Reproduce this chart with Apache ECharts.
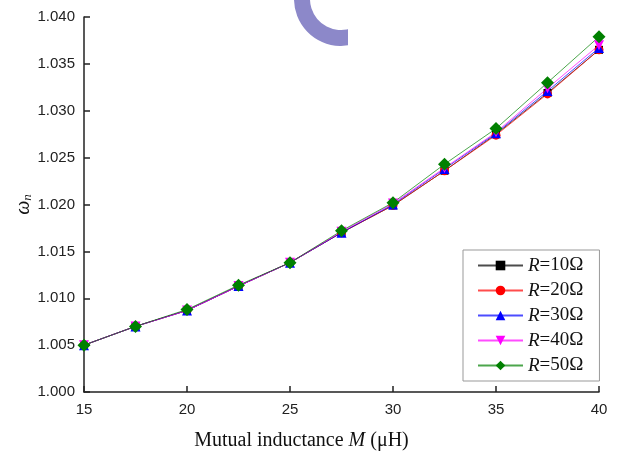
<!DOCTYPE html>
<html lang="en">
<head>
  <meta charset="UTF-8">
  <title>omega_n vs M</title>
  <script src="https://cdn.jsdelivr.net/npm/echarts@6/dist/echarts.min.js"></script>
  <style>
    html, body { margin: 0; padding: 0; background: #fff; }
    #main { width: 625px; height: 454px; }
  </style>
</head>
<body>
<div id="main"></div>
<script>
  // mutual inductance M (uH)
  var mValues = [15, 17.5, 20, 22.5, 25, 27.5, 30, 32.5, 35, 37.5, 40];
  // omega_n for each load resistance
  var r10 = [1.0050, 1.0070, 1.0087, 1.0113, 1.0138, 1.0170, 1.0199, 1.0236, 1.0275, 1.0319, 1.0365];
  var r20 = [1.0050, 1.0070, 1.0087, 1.0113, 1.0138, 1.0170, 1.0199, 1.0236, 1.0274, 1.0318, 1.0365];
  var r30 = [1.0050, 1.0070, 1.0087, 1.0113, 1.0138, 1.0170, 1.0200, 1.0238, 1.0276, 1.0321, 1.0367];
  var r40 = [1.0050, 1.0070, 1.0087, 1.0113, 1.0138, 1.0171, 1.0201, 1.0239, 1.0277, 1.0324, 1.0370];
  var r50 = [1.0050, 1.0070, 1.0088, 1.0114, 1.0138, 1.0172, 1.0202, 1.0243, 1.0281, 1.0330, 1.0379];
  var seriesNames = ['10Ω', '20Ω', '30Ω', '40Ω', '50Ω'];
  var seriesData = [r10, r20, r30, r40, r50];
  var colors = ['#000000', '#ff0000', '#0000ff', '#ff00ff', '#008000'];
  var symbols = ['rect', 'circle', 'triangle', 'triangle', 'diamond'];
  var rotates = [0, 0, 0, 180, 0];
  var sizes = [8, 9, 10, 10, 13];

  function pairs(ys) {
    var out = [];
    for (var i = 0; i < mValues.length; i++) out.push([mValues[i], ys[i]]);
    return out;
  }

  var series = [];
  for (var k = 0; k < seriesNames.length; k++) {
    series.push({
      name: seriesNames[k],
      type: 'line',
      data: pairs(seriesData[k]),
      symbol: symbols[k],
      symbolRotate: rotates[k],
      symbolSize: sizes[k],
      showAllSymbol: true,
      itemStyle: { color: colors[k] },
      lineStyle: { color: colors[k], width: 1, opacity: 0.7 },
      animation: false
    });
  }

  var myChart = echarts.init(document.getElementById('main'));
  var option = {
    backgroundColor: '#fff',
    animation: false,
    grid: { left: 84, right: 26, top: 17, bottom: 62, outerBoundsMode: 'none' },
    xAxis: {
      type: 'value',
      min: 15, max: 40, interval: 5,
      name: '{t|Mutual inductance }{i|M}{t| (μH)}',
      nameLocation: 'middle',
      nameGap: 39,
      nameTextStyle: {
        padding: [0, 80, 0, 0],
        rich: {
          t: { fontFamily: 'Liberation Serif', fontSize: 20, color: '#111' },
          i: { fontFamily: 'Liberation Serif', fontSize: 20, fontStyle: 'italic', color: '#111' }
        }
      },
      axisLine: { show: true, lineStyle: { color: '#222', width: 1.5 } },
      axisTick: { show: true, inside: true, length: 6, lineStyle: { color: '#222', width: 1.5 } },
      axisLabel: { fontFamily: 'Liberation Sans', fontSize: 15, color: '#222', margin: 10 },
      splitLine: { show: false }
    },
    yAxis: {
      type: 'value',
      min: 1.000, max: 1.040, interval: 0.005,
      name: '{i|ω}{s|n}',
      nameLocation: 'middle',
      nameRotate: 90,
      nameGap: 50,
      nameMoveOverlap: false,
      nameTextStyle: {
        rich: {
          i: { fontFamily: 'Liberation Serif', fontSize: 20, fontStyle: 'italic', color: '#111' },
          s: { fontFamily: 'Liberation Serif', fontSize: 13, fontStyle: 'italic', color: '#111', verticalAlign: 'bottom', padding: [8, 0, 0, 0] }
        }
      },
      axisLine: { show: true, lineStyle: { color: '#222', width: 1.5 } },
      axisTick: { show: true, inside: true, length: 6, lineStyle: { color: '#222', width: 1.5 } },
      axisLabel: {
        fontFamily: 'Liberation Sans', fontSize: 15, color: '#222', margin: 9,
        formatter: function (v) { return v.toFixed(3); }
      },
      splitLine: { show: false }
    },
    legend: {
      orient: 'vertical',
      left: 463,
      top: 250,
      backgroundColor: '#fff',
      borderColor: '#999',
      borderWidth: 1,
      borderRadius: 0,
      padding: [6, 16, 6, 14],
      itemWidth: 45,
      itemHeight: 12,
      itemGap: 6,
      data: seriesNames,
      formatter: function (name) { return '{i|R}{t|=' + name + '}'; },
      textStyle: {
        rich: {
          i: { fontFamily: 'Liberation Serif', fontSize: 19, fontStyle: 'italic', color: '#111', lineHeight: 19 },
          t: { fontFamily: 'Liberation Serif', fontSize: 19, color: '#111', lineHeight: 19 }
        }
      }
    },
    graphic: [
      {
        type: 'sector',
        silent: true,
        z: -10,
        shape: { cx: 341, cy: -1, r: 47, r0: 31, startAngle: 1.2, endAngle: 4.8, clockwise: true },
        style: { fill: '#8c88c9' }
      },
      {
        type: 'rect',
        silent: true,
        z: -9,
        shape: { x: 348, y: 0, width: 60, height: 50 },
        style: { fill: '#fff' }
      }
    ],
    series: series
  };
  myChart.setOption(option);
</script>
</body>
</html>
